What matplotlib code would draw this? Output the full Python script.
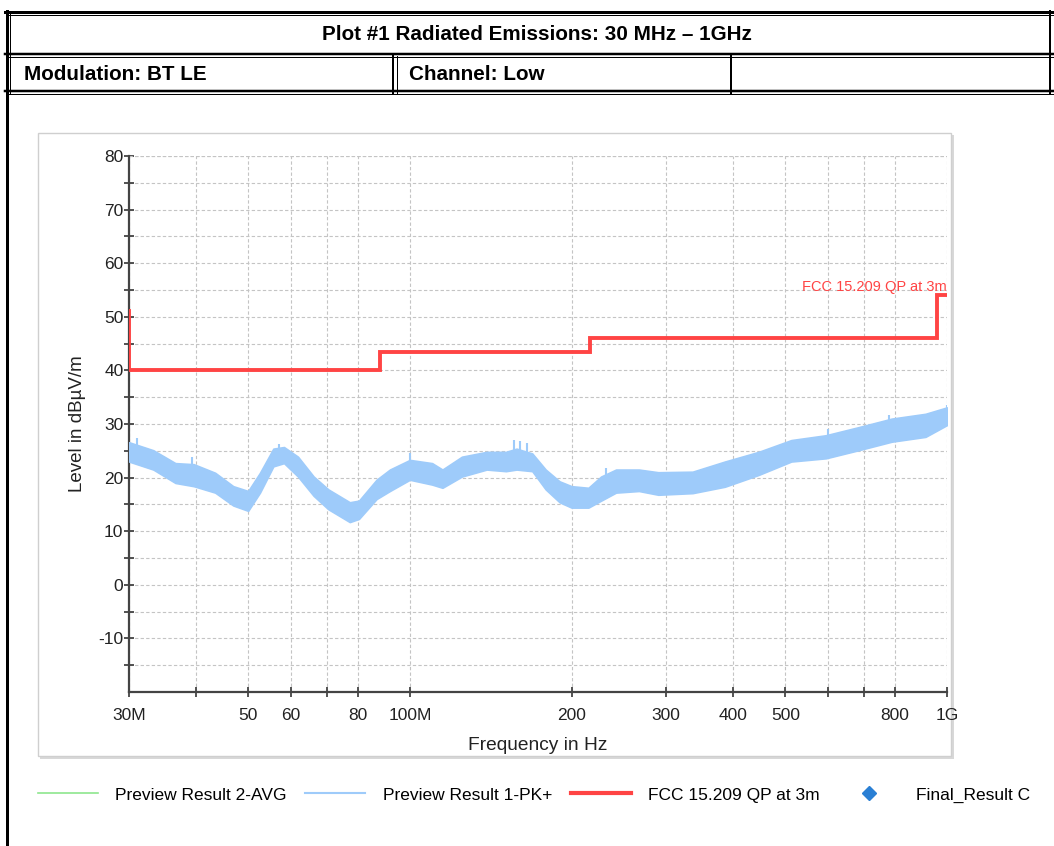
import numpy as np
import matplotlib
matplotlib.use('Agg')
import matplotlib.pyplot as plt
from matplotlib.lines import Line2D
from matplotlib.patches import Rectangle
from matplotlib.ticker import FixedLocator, FixedFormatter, NullFormatter

plt.rcParams['axes.unicode_minus'] = False

# Datos (frecuencia en MHz, nivel en dBuV/m)
pk_freq = [30, 33.3, 36.6, 39.6, 43.4, 46.9, 50, 52.6, 55.7, 58.3, 61.9, 66.2,
           70.5, 77.3, 80.4, 86.7, 91.8, 100, 110, 115, 125, 139, 151, 158,
           169, 179, 190, 200, 215, 227, 242, 267, 290, 336, 386, 446, 513,
           595, 684, 789, 912, 1000]
pk_top = [26.6, 25.1, 22.7, 22.5, 20.9, 18.4, 17.5, 20.9, 25.4, 25.7, 23.9, 20.2,
          17.8, 15.4, 15.7, 19.6, 21.5, 23.3, 22.7, 21.5, 23.9, 24.8, 24.8, 25.4,
          24.5, 21.5, 19.3, 18.4, 18.1, 20.2, 21.5, 21.5, 21.0, 21.1, 23.0, 24.8,
          27.0, 27.9, 29.4, 31.0, 31.9, 33.1]
pk_bot = [23.0, 21.5, 19.0, 18.4, 17.2, 14.8, 13.8, 17.2, 22.1, 22.7, 20.2, 16.6,
          14.1, 11.7, 12.3, 16.0, 17.5, 19.6, 18.7, 18.1, 20.2, 21.5, 21.2, 21.5,
          21.2, 17.8, 15.4, 14.4, 14.4, 15.7, 17.2, 17.5, 16.8, 17.1, 18.3, 20.5,
          23.0, 23.6, 25.1, 26.7, 27.6, 29.8]

# Picos sueltos que sobresalen de la traza
spike_freq = [31, 39.3, 57, 100, 156, 160, 165, 232, 600, 780, 1000]
spike_top = [27.3, 23.9, 26.2, 24.6, 27.0, 26.8, 26.4, 21.8, 29.1, 31.6, 33.6]

# Límite FCC 15.209 QP a 3 m (escalones)
lim_freq = [30, 30, 88, 88, 216, 216, 960, 960, 1000]
lim_level = [51, 40, 40, 43.5, 43.5, 46, 46, 54, 54]

xticks = [30, 40, 50, 60, 70, 80, 100, 200, 300, 400, 500, 600, 700, 800, 1000]
xtick_labels = ['30M', '', '50', '60', '', '80', '100M', '200', '300', '400',
                '500', '', '', '800', '1G']
yticks = [-10, 0, 10, 20, 30, 40, 50, 60, 70, 80]
yminor = [-15, -5, 5, 15, 25, 35, 45, 55, 65, 75]

legend_labels = ['Preview Result 2-AVG', 'Preview Result 1-PK+',
                 'FCC 15.209 QP at 3m', 'Final_Result C']

W, H = 1054, 846
sans = ['Liberation Sans', 'DejaVu Sans']
narrow = ['Liberation Sans Narrow', 'Liberation Sans', 'DejaVu Sans']
blue = '#9ecbfa'
red = '#ff4444'

fig = plt.figure(figsize=(W / 100, H / 100), dpi=100)

# Capa de fondo en píxeles para la tabla del informe
bg = fig.add_axes([0, 0, 1, 1], zorder=0)
bg.set_xlim(0, W)
bg.set_ylim(H, 0)
bg.axis('off')

def hline(y, x0, x1, px):
    bg.add_line(Line2D([x0, x1], [y, y], color='black', lw=px * 0.72))

def vline(x, y0, y1, px):
    bg.add_line(Line2D([x, x], [y0, y1], color='black', lw=px * 0.72))

hline(12.5, 5, W, 3)
hline(15.5, 9, W, 1)
hline(54, 5, W, 2.5)
hline(57, 9, W, 1)
hline(91, 5, W, 2.5)
hline(94, 9, W, 1)
vline(6.5, 11, H, 3)
vline(10, 14, 94, 1)
vline(393, 56, 94, 2)
vline(397, 56, 94, 1)
vline(731, 56, 94, 2)
vline(1050, 11, 94, 2)

bg.text(537, 35, 'Plot #1 Radiated Emissions: 30 MHz \u2013 1GHz', ha='center',
        va='center', fontsize=14.9, fontweight='bold', family=narrow)
bg.text(24, 75, 'Modulation: BT LE', ha='left', va='center', fontsize=14.9,
        fontweight='bold', family=narrow)
bg.text(409, 75, 'Channel: Low', ha='left', va='center', fontsize=14.9,
        fontweight='bold', family=narrow)

# Panel gris del gráfico
bg.add_patch(Rectangle((40, 135), 914, 624, facecolor='#d8d8d8', edgecolor='none'))
bg.add_patch(Rectangle((38, 133), 913, 623, facecolor='white', edgecolor='#cfcfcf', lw=1))

# Ejes del gráfico
ax = fig.add_axes([129 / W, 1 - 692 / H, (947 - 129) / W, (692 - 156) / H], zorder=1)
ax.patch.set_alpha(0)
ax.set_xscale('log')
ax.set_xlim(30, 1000)
ax.set_ylim(-20, 80)

ax.fill_between(pk_freq, pk_bot, pk_top, color=blue, lw=1.2, edgecolor=blue, zorder=3)
ax.vlines(spike_freq, np.interp(np.log(spike_freq), np.log(pk_freq), pk_bot), spike_top,
          color=blue, lw=1.5, zorder=3)
ax.plot(lim_freq, lim_level, color=red, lw=2.8, solid_joinstyle='miter', zorder=4)
ax.text(1000, 54.3, 'FCC 15.209 QP at 3m', color=red, ha='right', va='bottom',
        fontsize=10.5, family=sans, zorder=5)

ax.xaxis.set_major_locator(FixedLocator(xticks))
ax.xaxis.set_major_formatter(FixedFormatter(xtick_labels))
ax.xaxis.set_minor_locator(FixedLocator([]))
ax.xaxis.set_minor_formatter(NullFormatter())
ax.yaxis.set_major_locator(FixedLocator(yticks))
ax.yaxis.set_minor_locator(FixedLocator(yminor))

for s in ['top', 'right']:
    ax.spines[s].set_visible(False)
for s in ['left', 'bottom']:
    ax.spines[s].set_color('#444444')
    ax.spines[s].set_linewidth(1.6)

ax.tick_params(which='both', direction='inout', length=7, width=1.3, color='#444444',
               labelsize=12.5, labelcolor='#222222')
ax.tick_params(axis='y', pad=0.5)
ax.tick_params(axis='x', pad=8)
for lab in ax.get_xticklabels() + ax.get_yticklabels():
    lab.set_family(sans)

ax.grid(True, which='both', color='#c4c4c4', ls=(0, (3, 2)), lw=0.8)
ax.grid(False, axis='x', which='minor')
ax.hlines(80, 30, 1000, color='#c4c4c4', ls=(0, (3, 2)), lw=0.8)

ax.set_xlabel('Frequency in Hz', fontsize=13.8, family=sans, color='#222222', labelpad=10)
ax.set_ylabel('Level in dB\u00b5V/m', fontsize=13.5, family=sans, color='#222222', labelpad=9)

# Leyenda
handles = [Line2D([], [], color='#8ee68e', lw=1.2),
           Line2D([], [], color=blue, lw=1.5),
           Line2D([], [], color=red, lw=3),
           Line2D([], [], color='#2a7fd4', lw=0, marker='D', markersize=7)]
fig.legend(handles, legend_labels, loc='center left', bbox_to_anchor=(22 / W, 1 - 795 / H),
           ncol=4, frameon=False, handlelength=3.45, handletextpad=1.0, columnspacing=1.1,
           prop={'family': sans, 'size': 12.5})

fig.savefig('out.png', dpi=100)
